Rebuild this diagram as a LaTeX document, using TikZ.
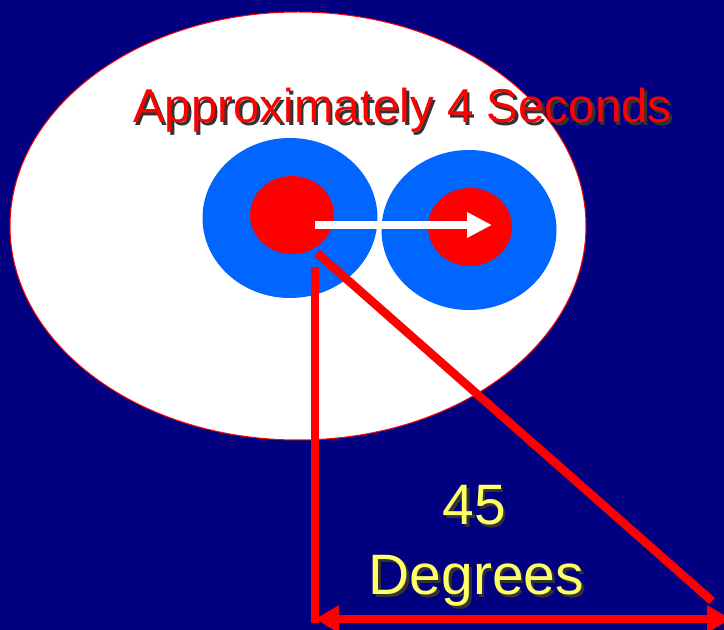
\documentclass[tikz,border=0pt]{standalone}
\usepackage{fontspec}
\setmainfont{Liberation Sans}
\usetikzlibrary{arrows.meta,positioning,shapes.geometric}
\definecolor{night}{HTML}{000080}
\definecolor{puck}{HTML}{0066FF}
\definecolor{pale}{HTML}{FFFF66}
\newcommand{\castshadow}[1]{\rlap{\kern2.5pt\raisebox{-2.5pt}{\color{black!80}#1}}#1}

\begin{document}
\begin{tikzpicture}[
    x=1pt, y=1pt,
    blob/.style={ellipse, inner sep=0pt},
    ring/.style={blob, fill=puck, minimum width=175pt, minimum height=160pt},
    core/.style={blob, fill=red, minimum width=84pt, minimum height=78pt},
    redtext/.style={text=red, font=\fontsize{47.5}{50}\selectfont, anchor=base},
    yeltext/.style={text=pale, font=\fontsize{57}{60}\selectfont, anchor=base},
    redline/.style={draw=red, line width=8.5pt},
    move/.style={-{Triangle[length=25pt, width=24pt]}, draw=white, line width=8pt}
]
\fill[night] (0,0) rectangle (724,630);
\useasboundingbox (0,0) rectangle (724,630);
\node[blob, draw=red, line width=1pt, fill=white, minimum width=576pt, minimum height=428pt] (field) at (298,404) {};
\node[ring] (ringA) at (290,412) {};
\node[core] (coreA) at (292,415) {};
\node[ring] (ringB) at (469,400) {};
\node[core] (coreB) at (470,403) {};
% moving arrow
\coordinate (go) at (315,405);
\coordinate (stop) at (492,405);
\draw[move] (go) -- (stop);
% heading
\node[redtext] (title) at (402.5,507) {\castshadow{Approximately 4 Seconds}};
% angle lines
\coordinate (drop) at (315,363);
\coordinate (foot) at (315,7);
\coordinate (slant) at (317,377);
\coordinate (slantend) at (712,29);
\coordinate (left) at (315,11);
\coordinate (right) at (731,11);
\draw[redline] (drop) -- (foot);
\draw[redline] (slant) -- (slantend);
\draw[redline, {Triangle[length=24pt, width=26pt]}-{Triangle[length=24pt, width=26pt]}] (left) -- (right);
% label
\node[yeltext] (num) at (474.5,105) {\castshadow{45}};
\node[yeltext] (deg) at (476.5,35) {\castshadow{Degrees}};
\end{tikzpicture}
\end{document}
